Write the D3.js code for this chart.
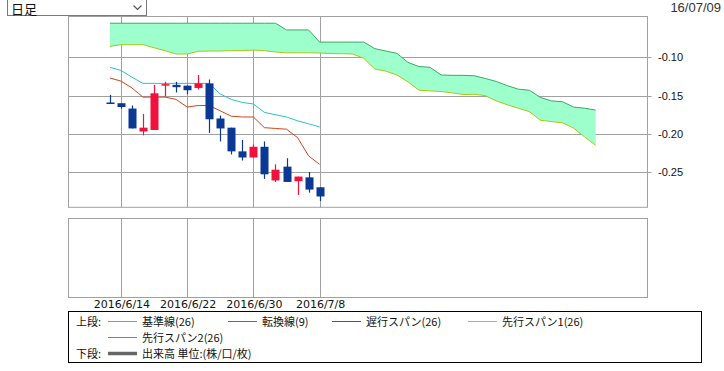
<!DOCTYPE html>
<html>
<head>
<meta charset="utf-8">
<script src="https://cdn.jsdelivr.net/npm/d3@7"></script>
<style>
  body { margin: 0; background: #fff; }
  svg { display: block; }
</style>
</head>
<body>
<div id="ichimokuChart"></div>
<script>
// trading days shown as candles
var dates = ["2016/6/13","2016/6/14","2016/6/15","2016/6/16","2016/6/17",
             "2016/6/20","2016/6/21","2016/6/22","2016/6/23","2016/6/24",
             "2016/6/27","2016/6/28","2016/6/29","2016/6/30","2016/7/1",
             "2016/7/4","2016/7/5","2016/7/6","2016/7/7","2016/7/8"];
var tickDates = ["2016/6/14","2016/6/22","2016/6/30","2016/7/8"];
var yTicks = [-0.10, -0.15, -0.20, -0.25];

// OHLC
var open  = [-0.159,-0.160,-0.167,-0.197,-0.195,-0.137,-0.136,-0.137,-0.140,-0.134,
             -0.180,-0.192,-0.223,-0.231,-0.217,-0.261,-0.243,-0.262,-0.257,-0.270];
var high  = [-0.149,-0.160,-0.163,-0.174,-0.136,-0.132,-0.132,-0.137,-0.123,-0.129,
             -0.176,-0.192,-0.208,-0.214,-0.210,-0.240,-0.232,-0.256,-0.250,-0.270];
var low   = [-0.161,-0.167,-0.193,-0.202,-0.195,-0.151,-0.146,-0.148,-0.142,-0.199,
             -0.210,-0.227,-0.235,-0.231,-0.259,-0.263,-0.263,-0.280,-0.277,-0.288];
var close = [-0.161,-0.165,-0.193,-0.192,-0.147,-0.135,-0.139,-0.143,-0.134,-0.181,
             -0.193,-0.223,-0.231,-0.217,-0.253,-0.247,-0.263,-0.256,-0.273,-0.282];

// 基準線(26) and 転換線(9)
var kijun  = [-0.113,-0.117,-0.126,-0.134,-0.134,-0.134,-0.134,-0.134,-0.134,-0.134,
              -0.148,-0.155,-0.159,-0.161,-0.172,-0.175,-0.178,-0.183,-0.187,-0.191];
var tenkan = [-0.127,-0.131,-0.140,-0.152,-0.152,-0.152,-0.155,-0.165,-0.163,-0.163,
              -0.170,-0.177,-0.178,-0.178,-0.192,-0.193,-0.194,-0.205,-0.229,-0.240];

// 先行スパン1 / 2 (run 25 days past the last candle)
var span1 = [-0.0856,-0.0834,-0.0834,-0.0834,-0.0874,-0.0912,-0.0956,-0.0956,-0.0920,-0.0917,
             -0.0917,-0.0912,-0.0912,-0.0904,-0.0912,-0.0930,-0.0940,-0.0940,-0.0940,-0.0943,
             -0.0950,-0.0952,-0.0956,-0.1013,-0.1153,-0.1180,-0.1230,-0.1320,-0.1430,-0.1438,
             -0.1447,-0.1464,-0.1486,-0.1483,-0.1500,-0.1570,-0.1620,-0.1665,-0.1710,-0.1823,
             -0.1840,-0.1856,-0.1925,-0.2040,-0.2150];
var span2 = [-0.0553,-0.0553,-0.0553,-0.0553,-0.0553,-0.0553,-0.0553,-0.0553,-0.0553,-0.0553,
             -0.0553,-0.0553,-0.0553,-0.0553,-0.0553,-0.0553,-0.0641,-0.0641,-0.0641,-0.0800,
             -0.0800,-0.0800,-0.0800,-0.0800,-0.0886,-0.0917,-0.0947,-0.1066,-0.1120,-0.1130,
             -0.1230,-0.1235,-0.1235,-0.1240,-0.1276,-0.1315,-0.1370,-0.1416,-0.1430,-0.1525,
             -0.1570,-0.1580,-0.1650,-0.1665,-0.1690];

var width = 724;
var height = 371;
var gridColor = "#a0a0a0";
var upColor = "#f2103c";
var downColor = "#0b3795";

var svg = d3.select("#ichimokuChart")
            .append("svg")
            .attr("width", width)
            .attr("height", height)
            .style("font-family", "'Liberation Sans', Arial, sans-serif");

// x is the bar index, the cloud reaches past the candles
var x = d3.scaleLinear().domain([-3.75, 48.7]).range([68.5, 647.5]);
var y = d3.scaleLinear().domain([-0.2962, -0.0465]).range([207.3, 16.5]);
var lower = { top: 218.5, bottom: 297.5 };

var tickIdx = tickDates.map(function(d){ return dates.indexOf(d); });

// ---- upper panel grid
var grid = svg.append("g");
grid.selectAll("hline")
    .data(yTicks)
    .enter().append("line")
    .attr("x1", x.range()[0]).attr("x2", x.range()[1] + 4)
    .attr("y1", function(d){ return Math.round(y(d)) + 0.5; })
    .attr("y2", function(d){ return Math.round(y(d)) + 0.5; })
    .attr("stroke", gridColor);
grid.selectAll("vline")
    .data(tickIdx)
    .enter().append("line")
    .attr("x1", function(d){ return Math.round(x(d)) + 0.5; })
    .attr("x2", function(d){ return Math.round(x(d)) + 0.5; })
    .attr("y1", y.range()[1]).attr("y2", y.range()[0])
    .attr("stroke", gridColor);
grid.append("rect")
    .attr("x", x.range()[0]).attr("y", y.range()[1])
    .attr("width", x.range()[1] - x.range()[0])
    .attr("height", y.range()[0] - y.range()[1])
    .attr("fill", "none").attr("stroke", gridColor);

svg.selectAll("ylab")
   .data(yTicks)
   .enter().append("text")
   .attr("x", 658)
   .attr("y", function(d){ return y(d) + 4; })
   .attr("font-size", "11px")
   .attr("fill", "#111")
   .text(function(d){ return d.toFixed(2); });

// ---- cloud
var cloud = span1.map(function(d, i){ return { i: i, a: d, b: span2[i] }; });
svg.append("path")
   .datum(cloud)
   .attr("fill", "#9dffcc")
   .attr("d", d3.area()
       .x(function(d){ return x(d.i); })
       .y0(function(d){ return y(d.a); })
       .y1(function(d){ return y(d.b); }));
svg.append("path")
   .datum(cloud)
   .attr("fill", "none").attr("stroke", "#3ca868").attr("stroke-width", 1)
   .attr("d", d3.line().x(function(d){ return x(d.i); }).y(function(d){ return y(d.b); }));
svg.append("path")
   .datum(cloud)
   .attr("fill", "none").attr("stroke", "#a8c814").attr("stroke-width", 1)
   .attr("d", d3.line().x(function(d){ return x(d.i); }).y(function(d){ return y(d.a); }));

// ---- kijun / tenkan
var line = d3.line().x(function(d, i){ return x(i); }).y(function(d){ return y(d); });
svg.append("path").datum(kijun)
   .attr("fill", "none").attr("stroke", "#2cc0c8").attr("d", line);
svg.append("path").datum(tenkan)
   .attr("fill", "none").attr("stroke", "#d4441a").attr("d", line);

// ---- candles
var candles = dates.map(function(d, i){
  return { i: i, o: open[i], h: high[i], l: low[i], c: close[i] };
});
var cg = svg.selectAll("candle")
            .data(candles)
            .enter().append("g")
            .attr("fill", function(d){ return d.c > d.o ? upColor : downColor; })
            .attr("stroke", function(d){ return d.c > d.o ? upColor : downColor; });
cg.append("line")
  .attr("x1", function(d){ return Math.round(x(d.i)) + 0.5; })
  .attr("x2", function(d){ return Math.round(x(d.i)) + 0.5; })
  .attr("y1", function(d){ return y(d.h); })
  .attr("y2", function(d){ return y(d.l); })
  .attr("stroke-width", 1.2);
cg.append("rect")
  .attr("x", function(d){ return Math.round(x(d.i)) - 3.5; })
  .attr("width", 8)
  .attr("y", function(d){ return y(Math.max(d.o, d.c)); })
  .attr("height", function(d){ return Math.max(1.5, y(Math.min(d.o, d.c)) - y(Math.max(d.o, d.c))); })
  .attr("stroke", "none");

// ---- lower panel (volume, empty)
svg.selectAll("lvline")
   .data(tickIdx)
   .enter().append("line")
   .attr("x1", function(d){ return Math.round(x(d)) + 0.5; })
   .attr("x2", function(d){ return Math.round(x(d)) + 0.5; })
   .attr("y1", lower.top).attr("y2", lower.bottom)
   .attr("stroke", gridColor);
svg.append("rect")
   .attr("x", x.range()[0]).attr("y", lower.top)
   .attr("width", x.range()[1] - x.range()[0])
   .attr("height", lower.bottom - lower.top)
   .attr("fill", "none").attr("stroke", gridColor);

svg.selectAll("xlab")
   .data(tickIdx)
   .enter().append("text")
   .attr("x", function(d){ return x(d) + 1; })
   .attr("y", 308)
   .attr("text-anchor", "middle")
   .attr("font-family", "'DejaVu Sans', sans-serif")
   .attr("font-size", "11px")
   .attr("fill", "#111")
   .text(function(d){ return dates[d]; });

// ---- header: period select and date
var sel = svg.append("g");
sel.append("rect")
   .attr("x", 7.5).attr("y", -0.5).attr("width", 139).attr("height", 16)
   .attr("fill", "#fff").attr("stroke", "#7a7a7a");
sel.append("text")
   .attr("x", 11).attr("y", 13.5)
   .attr("font-family", "'Noto Sans CJK JP', sans-serif")
   .attr("font-size", "13px").attr("fill", "#111")
   .text("日足");
sel.append("path")
   .attr("d", "M133.5,5.5 L137.5,9.5 L141.5,5.5")
   .attr("fill", "none").attr("stroke", "#555").attr("stroke-width", 1.2);

svg.append("text")
   .attr("x", 721).attr("y", 12)
   .attr("text-anchor", "end")
   .attr("font-size", "13px").attr("fill", "#333")
   .text("16/07/09");

// ---- legend
var legendItems = [
  { label: "基準線(26)",      color: "#2cc0c8", w: 1, x: 108, row: 0 },
  { label: "転換線(9)",       color: "#d4441a", w: 1, x: 228, row: 0 },
  { label: "遅行スパン(26)",  color: "#7030c8", w: 1, x: 332, row: 0 },
  { label: "先行スパン1(26)", color: "#a8c814", w: 1, x: 468, row: 0 },
  { label: "先行スパン2(26)", color: "#3ca868", w: 1, x: 108, row: 1 },
  { label: "出来高 単位:(株/口/枚)", color: "#666", w: 3.5, x: 108, row: 2 }
];
var rowY = [321.5, 337.5, 353.5];

var lg = svg.append("g")
            .attr("font-family", "'Noto Sans CJK JP', sans-serif")
            .attr("font-size", "11px");
lg.append("rect")
  .attr("x", 68.5).attr("y", 311.5).attr("width", 633).attr("height", 51)
  .attr("fill", "#fff").attr("stroke", "#000");
lg.selectAll("rowhead")
  .data([["上段:", 0], ["下段:", 2]])
  .enter().append("text")
  .attr("x", 76).attr("y", function(d){ return rowY[d[1]] + 4; })
  .attr("fill", "#111")
  .text(function(d){ return d[0]; });
lg.selectAll("lline")
  .data(legendItems)
  .enter().append("line")
  .attr("x1", function(d){ return d.x; })
  .attr("x2", function(d){ return d.x + 29; })
  .attr("y1", function(d){ return rowY[d.row]; })
  .attr("y2", function(d){ return rowY[d.row]; })
  .attr("stroke", function(d){ return d.color; })
  .attr("stroke-width", function(d){ return d.w; });
lg.selectAll("ltext")
  .data(legendItems)
  .enter().append("text")
  .attr("x", function(d){ return d.x + 34; })
  .attr("y", function(d){ return rowY[d.row] + 4; })
  .attr("fill", "#111")
  .text(function(d){ return d.label; });
</script>
</body>
</html>
